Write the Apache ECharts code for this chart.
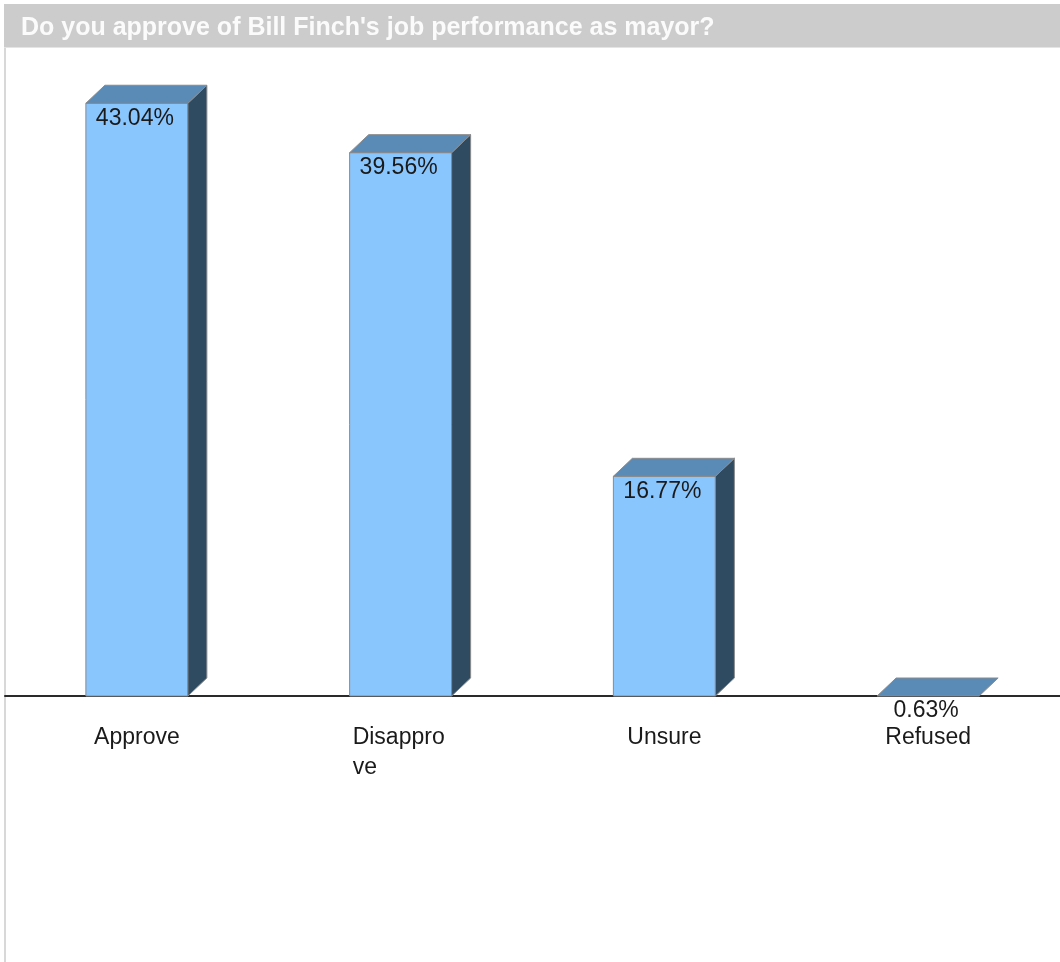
<!DOCTYPE html>
<html>
<head>
<meta charset="utf-8">
<script src="https://cdn.jsdelivr.net/npm/echarts@6/dist/echarts.min.js"></script>
<style>
  html, body { margin: 0; padding: 0; background: #ffffff; }
  #chart { width: 1060px; height: 962px; }
</style>
</head>
<body>
<div id="chart"></div>
<script>
const titleText = "Do you approve of Bill Finch's job performance as mayor?";
const categories = ['Approve', 'Disapprove', 'Unsure', 'Refused'];
const tickLabels = ['Approve', 'Disappro\nve', 'Unsure', 'Refused'];
const values = [43.04, 39.56, 16.77, 0.63];
const valueLabels = ['43.04%', '39.56%', '16.77%', '0.63%'];

const Y_MIN = 1.3;
const Y_MAX = 46.93;
const FONT = "'Liberation Sans', Arial, Helvetica, sans-serif";

function renderItem(params, api) {
  const idx = api.value(0);
  const v = api.value(1);
  const p = api.coord([idx, Math.max(v, Y_MIN)]);
  const b = api.coord([idx, Y_MIN]);
  const cx = p[0];
  const by = b[1];
  const top = Math.min(p[1], by);
  const w = 102, dx = 19, dy = 18;
  const l = cx - w / 2, r = cx + w / 2;
  const edge = '#8a8a8a';
  const children = [];
  if (by - top > 0.5) {
    children.push({
      type: 'rect',
      shape: { x: l, y: top, width: w, height: by - top },
      style: { fill: '#8ac6fe', stroke: edge, lineWidth: 1 }
    });
    children.push({
      type: 'polygon',
      shape: { points: [[r, top], [r + dx, top - dy], [r + dx, by - dy], [r, by]] },
      style: { fill: '#2f4b62', stroke: edge, lineWidth: 1 }
    });
  }
  children.push({
    type: 'polygon',
    shape: { points: [[l, top], [r, top], [r + dx, top - dy], [l + dx, top - dy]] },
    style: { fill: '#5a8ab6', stroke: edge, lineWidth: 1 }
  });
  children.push({
    type: 'text',
    style: {
      x: cx - 2, y: top + 15,
      text: valueLabels[params.dataIndex],
      align: 'center', verticalAlign: 'middle',
      fill: '#1a1a1a', font: "23px " + FONT
    }
  });
  return { type: 'group', children: children };
}

const chart = echarts.init(document.getElementById('chart'), null, { renderer: 'canvas' });
chart.setOption({
  backgroundColor: '#ffffff',
  animation: false,
  title: {
    text: titleText,
    left: 16,
    top: 11,
    textStyle: { color: '#fbfbfb', fontSize: 25, fontWeight: 'bold', fontFamily: FONT }
  },
  graphic: [
    { type: 'rect', z: -10, shape: { x: 4, y: 4, width: 1056, height: 43 }, style: { fill: '#cccccc' } },
    { type: 'rect', z: -10, shape: { x: 4, y: 47, width: 1056, height: 1 }, style: { fill: '#e4e4e4' } },
    { type: 'rect', z: -10, shape: { x: 4, y: 48, width: 2, height: 914 }, style: { fill: '#d8d8d8' } }
  ],
  grid: { left: 5, width: 1059, top: 48, bottom: 266 },
  xAxis: {
    type: 'category',
    data: categories,
    axisTick: { show: false },
    axisLine: { lineStyle: { color: '#2a2a2a', width: 2 } },
    axisLabel: {
      margin: 27,
      interval: 0,
      color: '#1a1a1a',
      fontSize: 23,
      fontFamily: FONT,
      lineHeight: 30,
      formatter: function (val, i) {
        const t = tickLabels[i];
        if (t.indexOf('\n') >= 0) {
          return t.split('\n').map(function (s) { return '{l|' + s + '}'; }).join('\n');
        }
        return t;
      },
      rich: {
        l: { width: 96, align: 'left', fontSize: 23, fontFamily: FONT, color: '#1a1a1a', lineHeight: 30 }
      }
    },
    splitLine: { show: false }
  },
  yAxis: {
    type: 'value',
    min: Y_MIN,
    max: Y_MAX,
    show: false,
    splitLine: { show: false }
  },
  series: [{
    type: 'custom',
    clip: false,
    renderItem: renderItem,
    encode: { x: 0, y: 1 },
    data: categories.map(function (c, i) { return [i, values[i]]; })
  }]
});
</script>
</body>
</html>
